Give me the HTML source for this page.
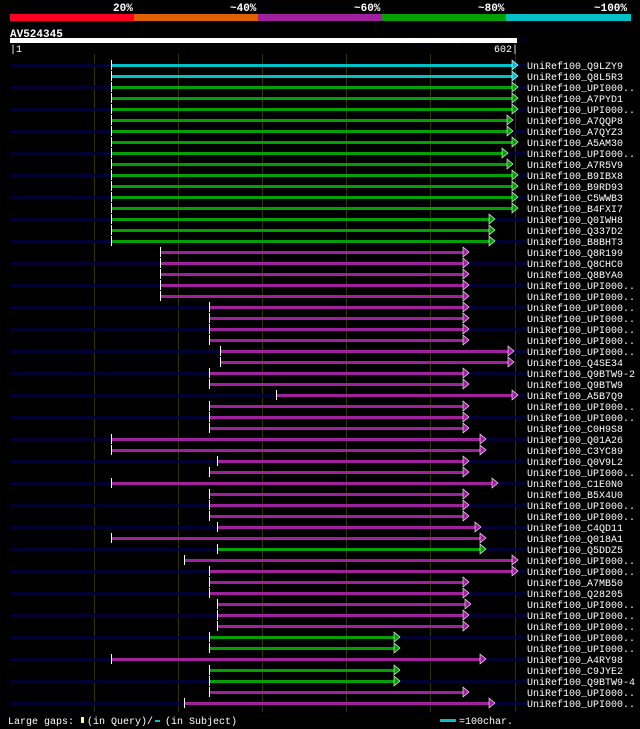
<!DOCTYPE html>
<html><head><meta charset="utf-8"><style>
html,body{margin:0;padding:0;background:#000;width:640px;height:729px;overflow:hidden}
svg{display:block}
text{font-family:"Liberation Mono",monospace}
</style></head><body>
<svg width="640" height="729" viewBox="0 0 640 729" xmlns="http://www.w3.org/2000/svg">
<rect width="640" height="729" fill="#000"/>
<g font-size="11" font-weight="bold" fill="#fff">
<text x="113" y="11">20%</text><text x="230" y="11">~40%</text><text x="354" y="11">~60%</text><text x="478" y="11">~80%</text><text x="594" y="11">~100%</text>
</g>
<rect x="10" y="14" width="124" height="7" fill="#ff0022"/>
<rect x="134" y="14" width="124" height="7" fill="#e06000"/>
<rect x="258" y="14" width="124" height="7" fill="#a020a0"/>
<rect x="382" y="14" width="124" height="7" fill="#00a000"/>
<rect x="506" y="14" width="125" height="7" fill="#00c0c8"/>
<text x="10" y="37" font-size="11" font-weight="bold" fill="#fff">AV524345</text>
<text x="402" y="44" font-size="9" fill="#000066">AlignView.pm Beta rel.7</text>
<rect x="10" y="38" width="507" height="5" fill="#fff"/>
<text x="10" y="52" font-size="10" fill="#fff">|1</text>
<text x="494" y="52" font-size="10" fill="#fff">602|</text>
<g stroke="#333300" stroke-width="1">
<line x1="94.5" y1="54" x2="94.5" y2="712"/><line x1="178.5" y1="54" x2="178.5" y2="712"/><line x1="262.5" y1="54" x2="262.5" y2="712"/><line x1="346.5" y1="54" x2="346.5" y2="712"/><line x1="430.5" y1="54" x2="430.5" y2="712"/><line x1="515.5" y1="54" x2="515.5" y2="712"/>
</g>
<g id="rows" font-size="10" fill="#fff"></g>
<g font-size="10" fill="#fff">
<text x="8" y="724">Large gaps:</text>
<rect x="81" y="717" width="3" height="6" fill="#ffff80"/>
<text x="87" y="724">(in Query)/</text>
<rect x="155" y="720" width="5" height="2" fill="#00c0c8"/>
<text x="165" y="724">(in Subject)</text>
<rect x="440" y="719" width="16" height="3" fill="#00c0c8"/>
<text x="459" y="724">=100char.</text>
</g>
<!-- rows -->
<g>
<rect x="10" y="64" width="515" height="3" fill="#000033"/><rect x="10" y="86" width="515" height="3" fill="#000033"/><rect x="10" y="108" width="515" height="3" fill="#000033"/><rect x="10" y="130" width="515" height="3" fill="#000033"/><rect x="10" y="152" width="515" height="3" fill="#000033"/><rect x="10" y="174" width="515" height="3" fill="#000033"/><rect x="10" y="196" width="515" height="3" fill="#000033"/><rect x="10" y="218" width="515" height="3" fill="#000033"/><rect x="10" y="240" width="515" height="3" fill="#000033"/><rect x="10" y="262" width="515" height="3" fill="#000033"/><rect x="10" y="284" width="515" height="3" fill="#000033"/><rect x="10" y="306" width="515" height="3" fill="#000033"/><rect x="10" y="328" width="515" height="3" fill="#000033"/><rect x="10" y="350" width="515" height="3" fill="#000033"/><rect x="10" y="372" width="515" height="3" fill="#000033"/><rect x="10" y="394" width="515" height="3" fill="#000033"/><rect x="10" y="416" width="515" height="3" fill="#000033"/><rect x="10" y="438" width="515" height="3" fill="#000033"/><rect x="10" y="460" width="515" height="3" fill="#000033"/><rect x="10" y="482" width="515" height="3" fill="#000033"/><rect x="10" y="504" width="515" height="3" fill="#000033"/><rect x="10" y="526" width="515" height="3" fill="#000033"/><rect x="10" y="548" width="515" height="3" fill="#000033"/><rect x="10" y="570" width="515" height="3" fill="#000033"/><rect x="10" y="592" width="515" height="3" fill="#000033"/><rect x="10" y="614" width="515" height="3" fill="#000033"/><rect x="10" y="636" width="515" height="3" fill="#000033"/><rect x="10" y="658" width="515" height="3" fill="#000033"/><rect x="10" y="680" width="515" height="3" fill="#000033"/><rect x="10" y="702" width="515" height="3" fill="#000033"/>
</g>
<g font-size="10" fill="#fff">
<!-- each row: tick, bar, arrow, label -->
<g><rect x="111" y="60" width="1" height="10" fill="#fff"/><rect x="112" y="64" width="403" height="3" fill="#00c0c8"/><path d="M512,60v10l6,-5z" fill="#00c0c8" stroke="#fff" stroke-width="0.6"/><text x="527" y="69">UniRef100_Q9LZY9</text></g>
<g><rect x="111" y="71" width="1" height="10" fill="#fff"/><rect x="112" y="75" width="403" height="3" fill="#00c0c8"/><path d="M512,71v10l6,-5z" fill="#00c0c8" stroke="#fff" stroke-width="0.6"/><text x="527" y="80">UniRef100_Q8L5R3</text></g>
<g><rect x="111" y="82" width="1" height="10" fill="#fff"/><rect x="112" y="86" width="403" height="3" fill="#00a000"/><path d="M512,82v10l6,-5z" fill="#00a000" stroke="#fff" stroke-width="0.6"/><text x="527" y="91">UniRef100_UPI000..</text></g>
<g><rect x="111" y="93" width="1" height="10" fill="#fff"/><rect x="112" y="97" width="403" height="3" fill="#00a000"/><path d="M512,93v10l6,-5z" fill="#00a000" stroke="#fff" stroke-width="0.6"/><text x="527" y="102">UniRef100_A7PYD1</text></g>
<g><rect x="111" y="104" width="1" height="10" fill="#fff"/><rect x="112" y="108" width="403" height="3" fill="#00a000"/><path d="M512,104v10l6,-5z" fill="#00a000" stroke="#fff" stroke-width="0.6"/><text x="527" y="113">UniRef100_UPI000..</text></g>
<g><rect x="111" y="115" width="1" height="10" fill="#fff"/><rect x="112" y="119" width="398" height="3" fill="#00a000"/><path d="M507,115v10l6,-5z" fill="#00a000" stroke="#fff" stroke-width="0.6"/><text x="527" y="124">UniRef100_A7QQP8</text></g>
<g><rect x="111" y="126" width="1" height="10" fill="#fff"/><rect x="112" y="130" width="398" height="3" fill="#00a000"/><path d="M507,126v10l6,-5z" fill="#00a000" stroke="#fff" stroke-width="0.6"/><text x="527" y="135">UniRef100_A7QYZ3</text></g>
<g><rect x="111" y="137" width="1" height="10" fill="#fff"/><rect x="112" y="141" width="403" height="3" fill="#00a000"/><path d="M512,137v10l6,-5z" fill="#00a000" stroke="#fff" stroke-width="0.6"/><text x="527" y="146">UniRef100_A5AM30</text></g>
<g><rect x="111" y="148" width="1" height="10" fill="#fff"/><rect x="112" y="152" width="393" height="3" fill="#00a000"/><path d="M502,148v10l6,-5z" fill="#00a000" stroke="#fff" stroke-width="0.6"/><text x="527" y="157">UniRef100_UPI000..</text></g>
<g><rect x="111" y="159" width="1" height="10" fill="#fff"/><rect x="112" y="163" width="398" height="3" fill="#00a000"/><path d="M507,159v10l6,-5z" fill="#00a000" stroke="#fff" stroke-width="0.6"/><text x="527" y="168">UniRef100_A7R5V9</text></g>
<g><rect x="111" y="170" width="1" height="10" fill="#fff"/><rect x="112" y="174" width="403" height="3" fill="#00a000"/><path d="M512,170v10l6,-5z" fill="#00a000" stroke="#fff" stroke-width="0.6"/><text x="527" y="179">UniRef100_B9IBX8</text></g>
<g><rect x="111" y="181" width="1" height="10" fill="#fff"/><rect x="112" y="185" width="403" height="3" fill="#00a000"/><path d="M512,181v10l6,-5z" fill="#00a000" stroke="#fff" stroke-width="0.6"/><text x="527" y="190">UniRef100_B9RD93</text></g>
<g><rect x="111" y="192" width="1" height="10" fill="#fff"/><rect x="112" y="196" width="403" height="3" fill="#00a000"/><path d="M512,192v10l6,-5z" fill="#00a000" stroke="#fff" stroke-width="0.6"/><text x="527" y="201">UniRef100_C5WWB3</text></g>
<g><rect x="111" y="203" width="1" height="10" fill="#fff"/><rect x="112" y="207" width="403" height="3" fill="#00a000"/><path d="M512,203v10l6,-5z" fill="#00a000" stroke="#fff" stroke-width="0.6"/><text x="527" y="212">UniRef100_B4FXI7</text></g>
<g><rect x="111" y="214" width="1" height="10" fill="#fff"/><rect x="112" y="218" width="380" height="3" fill="#00a000"/><path d="M489,214v10l6,-5z" fill="#00a000" stroke="#fff" stroke-width="0.6"/><text x="527" y="223">UniRef100_Q0IWH8</text></g>
<g><rect x="111" y="225" width="1" height="10" fill="#fff"/><rect x="112" y="229" width="380" height="3" fill="#00a000"/><path d="M489,225v10l6,-5z" fill="#00a000" stroke="#fff" stroke-width="0.6"/><text x="527" y="234">UniRef100_Q337D2</text></g>
<g><rect x="111" y="236" width="1" height="10" fill="#fff"/><rect x="112" y="240" width="380" height="3" fill="#00a000"/><path d="M489,236v10l6,-5z" fill="#00a000" stroke="#fff" stroke-width="0.6"/><text x="527" y="245">UniRef100_B8BHT3</text></g>
<g><rect x="160" y="247" width="1" height="10" fill="#fff"/><rect x="161" y="251" width="304" height="3" fill="#a020a0"/><path d="M463,247v10l6,-5z" fill="#a020a0" stroke="#fff" stroke-width="0.6"/><text x="527" y="256">UniRef100_Q8R199</text></g>
<g><rect x="160" y="258" width="1" height="10" fill="#fff"/><rect x="161" y="262" width="304" height="3" fill="#a020a0"/><path d="M463,258v10l6,-5z" fill="#a020a0" stroke="#fff" stroke-width="0.6"/><text x="527" y="267">UniRef100_Q8CHC0</text></g>
<g><rect x="160" y="269" width="1" height="10" fill="#fff"/><rect x="161" y="273" width="304" height="3" fill="#a020a0"/><path d="M463,269v10l6,-5z" fill="#a020a0" stroke="#fff" stroke-width="0.6"/><text x="527" y="278">UniRef100_Q8BYA0</text></g>
<g><rect x="160" y="280" width="1" height="10" fill="#fff"/><rect x="161" y="284" width="304" height="3" fill="#a020a0"/><path d="M463,280v10l6,-5z" fill="#a020a0" stroke="#fff" stroke-width="0.6"/><text x="527" y="289">UniRef100_UPI000..</text></g>
<g><rect x="160" y="291" width="1" height="10" fill="#fff"/><rect x="161" y="295" width="304" height="3" fill="#a020a0"/><path d="M463,291v10l6,-5z" fill="#a020a0" stroke="#fff" stroke-width="0.6"/><text x="527" y="300">UniRef100_UPI000..</text></g>
<g><rect x="209" y="302" width="1" height="10" fill="#fff"/><rect x="210" y="306" width="255" height="3" fill="#a020a0"/><path d="M463,302v10l6,-5z" fill="#a020a0" stroke="#fff" stroke-width="0.6"/><text x="527" y="311">UniRef100_UPI000..</text></g>
<g><rect x="209" y="313" width="1" height="10" fill="#fff"/><rect x="210" y="317" width="255" height="3" fill="#a020a0"/><path d="M463,313v10l6,-5z" fill="#a020a0" stroke="#fff" stroke-width="0.6"/><text x="527" y="322">UniRef100_UPI000..</text></g>
<g><rect x="209" y="324" width="1" height="10" fill="#fff"/><rect x="210" y="328" width="255" height="3" fill="#a020a0"/><path d="M463,324v10l6,-5z" fill="#a020a0" stroke="#fff" stroke-width="0.6"/><text x="527" y="333">UniRef100_UPI000..</text></g>
<g><rect x="209" y="335" width="1" height="10" fill="#fff"/><rect x="210" y="339" width="255" height="3" fill="#a020a0"/><path d="M463,335v10l6,-5z" fill="#a020a0" stroke="#fff" stroke-width="0.6"/><text x="527" y="344">UniRef100_UPI000..</text></g>
<g><rect x="220" y="346" width="1" height="10" fill="#fff"/><rect x="221" y="350" width="289" height="3" fill="#a020a0"/><path d="M508,346v10l6,-5z" fill="#a020a0" stroke="#fff" stroke-width="0.6"/><text x="527" y="355">UniRef100_UPI000..</text></g>
<g><rect x="220" y="357" width="1" height="10" fill="#fff"/><rect x="221" y="361" width="289" height="3" fill="#a020a0"/><path d="M508,357v10l6,-5z" fill="#a020a0" stroke="#fff" stroke-width="0.6"/><text x="527" y="366">UniRef100_Q4SE34</text></g>
<g><rect x="209" y="368" width="1" height="10" fill="#fff"/><rect x="210" y="372" width="255" height="3" fill="#a020a0"/><path d="M463,368v10l6,-5z" fill="#a020a0" stroke="#fff" stroke-width="0.6"/><text x="527" y="377">UniRef100_Q9BTW9-2</text></g>
<g><rect x="209" y="379" width="1" height="10" fill="#fff"/><rect x="210" y="383" width="255" height="3" fill="#a020a0"/><path d="M463,379v10l6,-5z" fill="#a020a0" stroke="#fff" stroke-width="0.6"/><text x="527" y="388">UniRef100_Q9BTW9</text></g>
<g><rect x="276" y="390" width="1" height="10" fill="#fff"/><rect x="277" y="394" width="238" height="3" fill="#a020a0"/><path d="M512,390v10l6,-5z" fill="#a020a0" stroke="#fff" stroke-width="0.6"/><text x="527" y="399">UniRef100_A5B7Q9</text></g>
<g><rect x="209" y="401" width="1" height="10" fill="#fff"/><rect x="210" y="405" width="255" height="3" fill="#a020a0"/><path d="M463,401v10l6,-5z" fill="#a020a0" stroke="#fff" stroke-width="0.6"/><text x="527" y="410">UniRef100_UPI000..</text></g>
<g><rect x="209" y="412" width="1" height="10" fill="#fff"/><rect x="210" y="416" width="255" height="3" fill="#a020a0"/><path d="M463,412v10l6,-5z" fill="#a020a0" stroke="#fff" stroke-width="0.6"/><text x="527" y="421">UniRef100_UPI000..</text></g>
<g><rect x="209" y="423" width="1" height="10" fill="#fff"/><rect x="210" y="427" width="255" height="3" fill="#a020a0"/><path d="M463,423v10l6,-5z" fill="#a020a0" stroke="#fff" stroke-width="0.6"/><text x="527" y="432">UniRef100_C0H9S8</text></g>
<g><rect x="111" y="434" width="1" height="10" fill="#fff"/><rect x="112" y="438" width="371" height="3" fill="#a020a0"/><path d="M480,434v10l6,-5z" fill="#a020a0" stroke="#fff" stroke-width="0.6"/><text x="527" y="443">UniRef100_Q01A26</text></g>
<g><rect x="111" y="445" width="1" height="10" fill="#fff"/><rect x="112" y="449" width="371" height="3" fill="#a020a0"/><path d="M480,445v10l6,-5z" fill="#a020a0" stroke="#fff" stroke-width="0.6"/><text x="527" y="454">UniRef100_C3YC89</text></g>
<g><rect x="217" y="456" width="1" height="10" fill="#fff"/><rect x="218" y="460" width="247" height="3" fill="#a020a0"/><path d="M463,456v10l6,-5z" fill="#a020a0" stroke="#fff" stroke-width="0.6"/><text x="527" y="465">UniRef100_Q0V9L2</text></g>
<g><rect x="209" y="467" width="1" height="10" fill="#fff"/><rect x="210" y="471" width="255" height="3" fill="#a020a0"/><path d="M463,467v10l6,-5z" fill="#a020a0" stroke="#fff" stroke-width="0.6"/><text x="527" y="476">UniRef100_UPI000..</text></g>
<g><rect x="111" y="478" width="1" height="10" fill="#fff"/><rect x="112" y="482" width="383" height="3" fill="#a020a0"/><path d="M492,478v10l6,-5z" fill="#a020a0" stroke="#fff" stroke-width="0.6"/><text x="527" y="487">UniRef100_C1E0N0</text></g>
<g><rect x="209" y="489" width="1" height="10" fill="#fff"/><rect x="210" y="493" width="255" height="3" fill="#a020a0"/><path d="M463,489v10l6,-5z" fill="#a020a0" stroke="#fff" stroke-width="0.6"/><text x="527" y="498">UniRef100_B5X4U0</text></g>
<g><rect x="209" y="500" width="1" height="10" fill="#fff"/><rect x="210" y="504" width="255" height="3" fill="#a020a0"/><path d="M463,500v10l6,-5z" fill="#a020a0" stroke="#fff" stroke-width="0.6"/><text x="527" y="509">UniRef100_UPI000..</text></g>
<g><rect x="209" y="511" width="1" height="10" fill="#fff"/><rect x="210" y="515" width="255" height="3" fill="#a020a0"/><path d="M463,511v10l6,-5z" fill="#a020a0" stroke="#fff" stroke-width="0.6"/><text x="527" y="520">UniRef100_UPI000..</text></g>
<g><rect x="217" y="522" width="1" height="10" fill="#fff"/><rect x="218" y="526" width="260" height="3" fill="#a020a0"/><path d="M475,522v10l6,-5z" fill="#a020a0" stroke="#fff" stroke-width="0.6"/><text x="527" y="531">UniRef100_C4QD11</text></g>
<g><rect x="111" y="533" width="1" height="10" fill="#fff"/><rect x="112" y="537" width="371" height="3" fill="#a020a0"/><path d="M480,533v10l6,-5z" fill="#a020a0" stroke="#fff" stroke-width="0.6"/><text x="527" y="542">UniRef100_Q018A1</text></g>
<g><rect x="217" y="544" width="1" height="10" fill="#fff"/><rect x="218" y="548" width="265" height="3" fill="#00a000"/><path d="M480,544v10l6,-5z" fill="#00a000" stroke="#fff" stroke-width="0.6"/><text x="527" y="553">UniRef100_Q5DDZ5</text></g>
<g><rect x="184" y="555" width="1" height="10" fill="#fff"/><rect x="185" y="559" width="330" height="3" fill="#a020a0"/><path d="M512,555v10l6,-5z" fill="#a020a0" stroke="#fff" stroke-width="0.6"/><text x="527" y="564">UniRef100_UPI000..</text></g>
<g><rect x="209" y="566" width="1" height="10" fill="#fff"/><rect x="210" y="570" width="305" height="3" fill="#a020a0"/><path d="M512,566v10l6,-5z" fill="#a020a0" stroke="#fff" stroke-width="0.6"/><text x="527" y="575">UniRef100_UPI000..</text></g>
<g><rect x="209" y="577" width="1" height="10" fill="#fff"/><rect x="210" y="581" width="255" height="3" fill="#a020a0"/><path d="M463,577v10l6,-5z" fill="#a020a0" stroke="#fff" stroke-width="0.6"/><text x="527" y="586">UniRef100_A7MB50</text></g>
<g><rect x="209" y="588" width="1" height="10" fill="#fff"/><rect x="210" y="592" width="255" height="3" fill="#a020a0"/><path d="M463,588v10l6,-5z" fill="#a020a0" stroke="#fff" stroke-width="0.6"/><text x="527" y="597">UniRef100_Q28205</text></g>
<g><rect x="217" y="599" width="1" height="10" fill="#fff"/><rect x="218" y="603" width="249" height="3" fill="#a020a0"/><path d="M465,599v10l6,-5z" fill="#a020a0" stroke="#fff" stroke-width="0.6"/><text x="527" y="608">UniRef100_UPI000..</text></g>
<g><rect x="217" y="610" width="1" height="10" fill="#fff"/><rect x="218" y="614" width="247" height="3" fill="#a020a0"/><path d="M463,610v10l6,-5z" fill="#a020a0" stroke="#fff" stroke-width="0.6"/><text x="527" y="619">UniRef100_UPI000..</text></g>
<g><rect x="217" y="621" width="1" height="10" fill="#fff"/><rect x="218" y="625" width="247" height="3" fill="#a020a0"/><path d="M463,621v10l6,-5z" fill="#a020a0" stroke="#fff" stroke-width="0.6"/><text x="527" y="630">UniRef100_UPI000..</text></g>
<g><rect x="209" y="632" width="1" height="10" fill="#fff"/><rect x="210" y="636" width="187" height="3" fill="#00a000"/><path d="M394,632v10l6,-5z" fill="#00a000" stroke="#fff" stroke-width="0.6"/><text x="527" y="641">UniRef100_UPI000..</text></g>
<g><rect x="209" y="643" width="1" height="10" fill="#fff"/><rect x="210" y="647" width="187" height="3" fill="#00a000"/><path d="M394,643v10l6,-5z" fill="#00a000" stroke="#fff" stroke-width="0.6"/><text x="527" y="652">UniRef100_UPI000..</text></g>
<g><rect x="111" y="654" width="1" height="10" fill="#fff"/><rect x="112" y="658" width="371" height="3" fill="#a020a0"/><path d="M480,654v10l6,-5z" fill="#a020a0" stroke="#fff" stroke-width="0.6"/><text x="527" y="663">UniRef100_A4RY98</text></g>
<g><rect x="209" y="665" width="1" height="10" fill="#fff"/><rect x="210" y="669" width="187" height="3" fill="#00a000"/><path d="M394,665v10l6,-5z" fill="#00a000" stroke="#fff" stroke-width="0.6"/><text x="527" y="674">UniRef100_C9JYE2</text></g>
<g><rect x="209" y="676" width="1" height="10" fill="#fff"/><rect x="210" y="680" width="187" height="3" fill="#00a000"/><path d="M394,676v10l6,-5z" fill="#00a000" stroke="#fff" stroke-width="0.6"/><text x="527" y="685">UniRef100_Q9BTW9-4</text></g>
<g><rect x="209" y="687" width="1" height="10" fill="#fff"/><rect x="210" y="691" width="255" height="3" fill="#a020a0"/><path d="M463,687v10l6,-5z" fill="#a020a0" stroke="#fff" stroke-width="0.6"/><text x="527" y="696">UniRef100_UPI000..</text></g>
<g><rect x="184" y="698" width="1" height="10" fill="#fff"/><rect x="185" y="702" width="307" height="3" fill="#a020a0"/><path d="M489,698v10l6,-5z" fill="#a020a0" stroke="#fff" stroke-width="0.6"/><text x="527" y="707">UniRef100_UPI000..</text></g>
</g>
</svg>
</body></html>
